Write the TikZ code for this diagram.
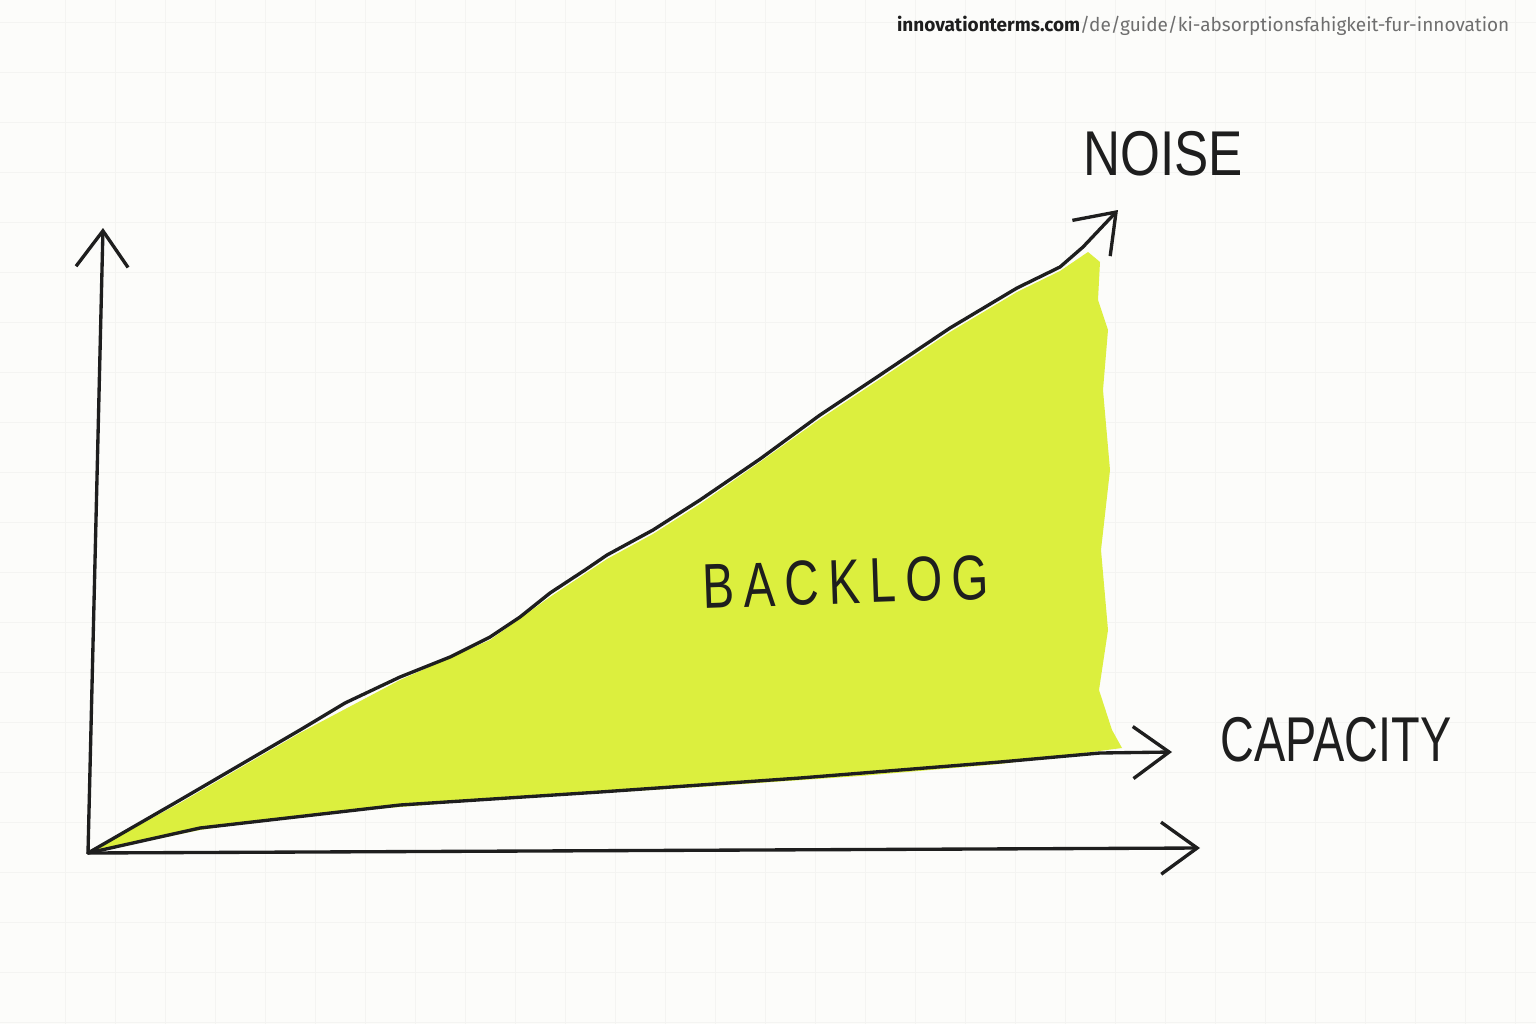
\documentclass[tikz,border=0pt]{standalone}
\usepackage{fontspec}
\setmainfont{Liberation Sans}
\newfontfamily\urlfont{Fira Sans}
\usetikzlibrary{arrows.meta}
\definecolor{paper}{RGB}{252,252,250}
\definecolor{gridc}{RGB}{244,244,242}
\definecolor{marker}{RGB}{220,239,62}
\definecolor{ink}{RGB}{30,30,30}
\definecolor{urlgray}{RGB}{110,110,110}
\tikzset{
  penline/.style={draw=ink, line width=0.95pt, line join=round, line cap=round},
  penarrow/.style={penline, -{Straight Barb[length=3.6mm,width=5.2mm,line width=0.95pt]}},
  hand/.style={text=ink, inner sep=0pt, font=\fontsize{18}{20}\selectfont},
}
\begin{document}
\begin{tikzpicture}[x=0.01cm,y=-0.01cm]
\useasboundingbox (0,0) rectangle (1536,1024);
\fill[paper] (0,0) rectangle (1536,1024);
% faint grid
\foreach \gx in {65,115,...,1535} \draw[gridc, line width=0.25pt] (\gx,0) -- (\gx,1024);
\foreach \gy in {22,72,...,1022} \draw[gridc, line width=0.25pt] (0,\gy) -- (1536,\gy);

% key points
\coordinate (O) at (88,853);
\coordinate (Ytip) at (103,228);
\coordinate (Xtip) at (1200,848);
\coordinate (Ntip) at (1118,210);
\coordinate (Ctip) at (1172,752);

% backlog fill
\fill[marker] (O) -- (180,803) -- (300,733) -- (400,680) -- (490,640) -- (550,597) -- (607,559)
  -- (653,534) -- (700,504) -- (760,462) -- (820,419) -- (880,379) -- (950,332) -- (1017,292)
  -- (1060,271) -- (1088,252) -- (1100,262) -- (1098,300) -- (1108,330) -- (1103,390)
  -- (1110,470) -- (1101,550) -- (1108,630) -- (1099,690) -- (1112,730) -- (1122,748)
  -- (1000,764) -- (860,776) -- (700,787) -- (500,799) -- (300,815) -- (200,830) -- cycle;

% axes
\draw[penarrow] (O) -- (Ytip);
\draw[penarrow] (O) -- (Xtip);
% capacity line
\draw[penarrow] (O) -- (200,828) -- (400,805) -- (600,792) -- (800,778) -- (1000,762) -- (1100,753) -- (Ctip);
% noise line
\draw[penarrow] (O) -- (180,800) -- (240,765) -- (300,730) -- (345,703) -- (400,677) -- (450,657) -- (490,637)
  -- (520,617) -- (550,593) -- (585,570) -- (607,555) -- (653,530) -- (700,500) -- (760,459)
  -- (820,415) -- (880,375) -- (950,328) -- (1017,288) -- (1060,267) -- (1083,247) -- (Ntip);

% labels
\node[hand] (noise) at (1163,154) {\scalebox{0.81}[1]{NOISE}};
\node[hand, rotate=2] (backlog) at (846,582) {\scalebox{0.75}[1]{\addfontfeature{LetterSpace=20}BACKLOG}};
\node[hand] (capacity) at (1336,740) {\scalebox{0.74}[1]{CAPACITY}};

% url
\node[anchor=east, inner sep=0pt, font=\urlfont\fontsize{5.4}{6}\selectfont] (url) at (1510,26)
  {\textcolor{ink}{\bfseries innovationterms.com}\textcolor{urlgray}{/de/guide/ki-absorptionsfahigkeit-fur-innovation}};
\end{tikzpicture}
\end{document}
